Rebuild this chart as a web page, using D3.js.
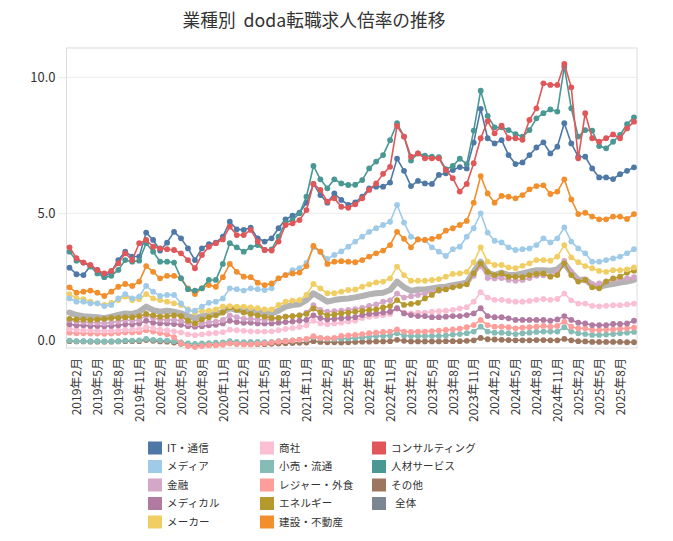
<!DOCTYPE html>
<html><head><meta charset="utf-8">
<script src="https://cdn.jsdelivr.net/npm/d3@7"></script>
<style>
body{margin:0;background:#fff;}
text{font-family:"Noto Sans CJK JP","Noto Sans",sans-serif;}
</style></head>
<body><svg id="chart" width="673" height="541"></svg>
<script>
// ---- categories ----
const months = [];
for (let y = 2019; y <= 2025; y++) for (let m = 1; m <= 12; m++) { if (y === 2025 && m > 10) break; months.push(y + "年" + m + "月"); }
const tickLabels = months.filter((d, i) => i % 3 === 1);
const yTicks = [0, 5, 10];

// ---- series values (2019年1月 .. 2025年10月) ----
const itTsushin = [3.00,2.76,2.73,3.06,2.92,2.67,2.85,3.28,3.59,3.41,3.41,4.29,4.02,3.63,3.92,4.32,4.08,3.71,3.28,3.71,3.87,3.92,4.14,4.69,4.41,4.39,4.47,4.08,3.96,4.08,4.45,4.78,4.91,5.02,5.39,6.08,5.67,5.39,5.73,5.49,5.31,5.40,
  5.61,5.92,5.98,5.98,6.13,7.01,6.56,6.00,6.19,6.10,6.08,6.41,6.47,6.59,6.70,6.65,7.60,8.84,7.76,7.57,7.69,7.14,6.81,6.87,7.14,7.42,7.61,7.20,7.45,8.31,7.57,7.08,7.08,6.65,6.32,6.32,6.26,6.44,6.56,6.69];
const media = [1.87,1.75,1.75,1.69,1.69,1.59,1.63,1.87,2.03,1.87,1.94,2.33,2.12,1.96,2.00,2.00,1.69,1.44,1.42,1.57,1.71,1.75,1.87,2.24,2.21,2.16,2.24,2.21,2.18,2.24,2.61,2.73,2.91,2.98,3.18,3.75,3.59,3.32,3.47,3.60,3.77,3.96,
  4.14,4.32,4.45,4.57,4.69,5.31,4.66,4.14,4.04,4.02,3.75,3.59,3.43,3.68,3.77,4.14,4.45,5.00,4.29,3.99,3.93,3.75,3.65,3.68,3.71,3.83,4.08,3.93,4.08,4.48,3.96,3.71,3.53,3.22,3.22,3.28,3.34,3.41,3.53,3.68];
const kinyu = [1.08,1.02,1.00,0.98,0.98,0.95,0.98,1.02,1.08,1.05,1.08,1.25,1.15,1.10,1.08,1.08,1.05,0.95,0.92,0.95,1.00,1.02,1.08,1.25,1.18,1.12,1.12,1.10,1.08,1.10,1.15,1.20,1.22,1.25,1.35,1.62,1.45,1.38,1.40,1.42,1.45,1.48,
  1.52,1.60,1.65,1.75,1.80,2.05,1.90,1.95,2.00,2.05,2.10,2.15,2.22,2.30,2.35,2.40,2.70,3.05,2.62,2.60,2.62,2.55,2.52,2.55,2.62,2.70,2.72,2.70,2.85,3.25,2.85,2.55,2.55,2.40,2.42,2.50,2.55,2.60,2.62,2.65];
const medical = [0.92,0.88,0.88,0.86,0.86,0.85,0.86,0.88,0.92,0.92,0.95,1.05,0.98,0.95,0.95,0.93,0.90,0.85,0.83,0.85,0.88,0.90,0.95,1.05,1.00,0.98,0.98,0.95,0.95,0.95,0.98,1.00,1.02,1.05,1.08,1.25,1.15,1.10,1.12,1.14,1.16,1.18,
  1.26,1.30,1.32,1.35,1.38,1.51,1.32,1.26,1.22,1.22,1.18,1.18,1.20,1.22,1.22,1.26,1.32,1.51,1.22,1.18,1.18,1.14,1.08,1.08,1.08,1.08,1.08,1.05,1.10,1.22,1.08,0.98,0.95,0.89,0.89,0.89,0.93,0.93,0.95,1.05];
const maker = [2.03,1.87,1.84,1.75,1.69,1.63,1.71,1.81,1.94,1.81,1.84,2.03,1.87,1.81,1.75,1.69,1.63,1.47,1.35,1.42,1.42,1.47,1.57,1.59,1.57,1.57,1.54,1.51,1.47,1.47,1.63,1.75,1.79,1.81,2.00,2.40,2.24,2.06,2.06,2.12,2.18,2.20,
  2.30,2.39,2.46,2.49,2.61,3.04,2.73,2.52,2.52,2.52,2.55,2.58,2.67,2.77,2.79,2.85,3.20,3.75,3.22,3.10,3.10,3.01,2.98,3.07,3.16,3.28,3.28,3.26,3.41,3.83,3.38,3.20,3.06,2.98,2.88,2.85,2.91,2.91,2.94,3.01];
const shosha = [0.75,0.72,0.70,0.70,0.68,0.68,0.68,0.70,0.72,0.72,0.74,0.82,0.78,0.72,0.70,0.66,0.62,0.55,0.52,0.55,0.58,0.60,0.63,0.72,0.70,0.68,0.66,0.65,0.65,0.66,0.70,0.75,0.78,0.82,0.88,1.05,0.95,0.92,0.95,0.98,1.02,1.05,
  1.15,1.20,1.22,1.25,1.30,1.50,1.35,1.32,1.35,1.35,1.38,1.40,1.42,1.45,1.50,1.55,1.75,2.10,1.90,1.82,1.82,1.78,1.75,1.75,1.78,1.82,1.85,1.82,1.85,2.05,1.80,1.68,1.68,1.60,1.58,1.60,1.62,1.62,1.65,1.68];
const kouri = [0.32,0.30,0.30,0.30,0.30,0.29,0.30,0.30,0.32,0.32,0.33,0.38,0.35,0.33,0.32,0.30,0.25,0.22,0.20,0.22,0.23,0.24,0.25,0.30,0.27,0.26,0.27,0.27,0.26,0.27,0.30,0.32,0.33,0.35,0.36,0.45,0.40,0.38,0.38,0.39,0.40,0.42,
  0.44,0.46,0.49,0.49,0.51,0.59,0.51,0.49,0.49,0.49,0.49,0.49,0.51,0.54,0.56,0.59,0.65,0.83,0.65,0.61,0.61,0.59,0.56,0.59,0.61,0.64,0.65,0.65,0.65,0.81,0.65,0.59,0.56,0.53,0.53,0.54,0.56,0.59,0.61,0.64];
const leisure = [0.61,0.59,0.59,0.58,0.58,0.57,0.58,0.60,0.62,0.62,0.63,0.70,0.65,0.60,0.55,0.45,0.22,0.12,0.08,0.12,0.15,0.15,0.18,0.22,0.20,0.18,0.18,0.20,0.22,0.25,0.28,0.30,0.32,0.35,0.38,0.48,0.42,0.40,0.42,0.49,0.51,0.53,
  0.56,0.59,0.61,0.64,0.65,0.73,0.65,0.64,0.65,0.65,0.67,0.69,0.71,0.73,0.76,0.81,0.89,1.08,0.89,0.83,0.83,0.81,0.77,0.80,0.81,0.83,0.86,0.83,0.86,1.02,0.83,0.77,0.77,0.71,0.71,0.73,0.73,0.76,0.77,0.80];
const energy = [1.12,1.10,1.10,1.08,1.10,1.12,1.15,1.15,1.18,1.18,1.22,1.30,1.25,1.20,1.22,1.25,1.22,1.05,0.95,1.10,1.18,1.25,1.35,1.55,1.45,1.35,1.30,1.25,1.20,1.15,1.15,1.20,1.22,1.25,1.30,1.50,1.35,1.25,1.28,1.32,1.35,1.38,
  1.41,1.45,1.47,1.54,1.59,1.81,1.63,1.67,1.71,1.87,2.00,2.18,2.20,2.28,2.33,2.39,2.79,3.15,2.85,2.73,2.79,2.67,2.67,2.65,2.73,2.77,2.79,2.67,2.73,3.16,2.73,2.49,2.55,2.28,2.24,2.49,2.61,2.67,2.82,2.89];
const kensetsu = [2.28,2.08,2.12,2.16,2.08,1.96,2.12,2.30,2.40,2.33,2.49,3.06,2.85,2.61,2.70,2.70,2.61,2.24,2.03,2.24,2.36,2.30,2.65,3.14,2.85,2.67,2.65,2.45,2.36,2.42,2.61,2.73,2.79,2.82,3.06,3.80,3.59,3.14,3.22,3.24,3.22,3.20,
  3.28,3.41,3.53,3.63,3.83,4.32,4.06,3.75,4.04,4.02,4.06,4.14,4.36,4.45,4.57,4.72,5.39,6.37,5.73,5.39,5.64,5.61,5.55,5.67,5.88,6.00,6.03,5.71,5.80,6.25,5.51,4.97,5.02,4.88,4.78,4.78,4.88,4.88,4.79,4.97];
const consulting = [3.75,3.35,3.19,3.10,2.91,2.79,2.88,3.16,3.53,3.28,3.90,4.02,3.77,3.71,3.68,3.65,3.53,3.28,2.98,3.47,3.77,3.90,4.04,4.51,4.20,4.20,4.39,3.96,3.65,3.63,3.96,4.57,4.63,4.75,5.12,6.08,5.86,5.43,5.55,5.24,5.20,5.33,
  5.55,5.86,6.10,6.45,6.71,8.21,7.82,7.08,7.20,7.02,7.02,7.02,6.59,6.29,5.80,6.08,6.84,7.76,8.39,7.94,8.22,7.76,7.76,7.70,8.43,8.86,9.78,9.72,9.72,10.49,9.63,7.02,8.68,7.76,7.63,7.76,7.90,7.76,8.12,8.37];
const jinzai = [3.59,3.26,3.19,3.04,2.79,2.65,2.70,2.92,3.28,3.22,3.26,3.90,3.59,3.22,3.22,3.19,2.61,2.21,2.16,2.24,2.55,2.55,3.14,3.90,3.75,3.59,3.75,3.83,3.65,3.67,4.14,4.66,4.75,5.00,5.61,6.74,6.25,5.92,6.25,6.10,6.04,6.05,
  6.22,6.65,6.90,7.14,7.69,8.31,7.82,6.94,7.20,7.12,7.08,7.06,6.62,6.74,7.01,6.81,8.04,9.51,8.58,8.16,8.16,8.06,7.91,7.82,8.06,8.49,8.68,8.82,8.74,10.39,8.86,7.82,8.06,8.04,7.47,7.39,7.63,7.88,8.28,8.53];
const sonota = [0.30,0.29,0.29,0.28,0.28,0.28,0.28,0.29,0.30,0.30,0.30,0.34,0.31,0.29,0.28,0.25,0.20,0.15,0.14,0.15,0.16,0.17,0.18,0.22,0.20,0.19,0.19,0.19,0.19,0.20,0.21,0.22,0.23,0.24,0.25,0.30,0.27,0.26,0.26,0.25,0.26,0.27,
  0.28,0.28,0.29,0.29,0.30,0.35,0.31,0.29,0.29,0.29,0.29,0.29,0.30,0.30,0.30,0.31,0.33,0.42,0.37,0.36,0.35,0.34,0.33,0.33,0.33,0.34,0.34,0.33,0.33,0.38,0.33,0.30,0.29,0.27,0.27,0.27,0.27,0.27,0.26,0.26];
const zentai = [1.35,1.26,1.22,1.20,1.18,1.14,1.20,1.26,1.32,1.30,1.38,1.57,1.44,1.38,1.42,1.38,1.32,1.22,1.14,1.22,1.26,1.30,1.38,1.51,1.44,1.42,1.38,1.38,1.32,1.32,1.42,1.57,1.63,1.66,1.81,2.06,1.91,1.75,1.81,1.85,1.87,1.91,
  1.96,2.02,2.06,2.08,2.18,2.49,2.28,2.15,2.20,2.20,2.24,2.28,2.30,2.36,2.40,2.45,2.85,3.22,2.82,2.73,2.82,2.73,2.73,2.79,2.85,2.91,2.91,2.89,2.94,3.16,2.82,2.55,2.57,2.36,2.30,2.36,2.40,2.45,2.49,2.55];

const seriesNames = ["IT・通信","メディア","金融","メディカル","メーカー","商社","小売・流通","レジャー・外食","エネルギー","建設・不動産","コンサルティング","人材サービス","その他","全体"];
const seriesData = [itTsushin, media, kinyu, medical, maker, shosha, kouri, leisure, energy, kensetsu, consulting, jinzai, sonota, zentai];
const seriesColors = ["#4e79a7","#a0cbe8","#d4a6c8","#b07aa1","#f1ce63","#fabfd2","#86bcb6","#ff9d9a","#b6992d","#f28e2b","#e15759","#499894","#9d7660","#7c8692"];
const drawOrder = [13,12,6,7,5,3,2,8,4,1,9,0,11,10];

const svg = d3.select("#chart");
const frame = {l: 66.5, r: 637, t: 48, b: 348};
const x = d3.scalePoint().domain(months).range([69.5, 634]);
const y = d3.scaleLinear().domain([0, 10]).range([349.3, 77.3]);

// title
svg.append("text").attr("x", 314).attr("y", 27).attr("text-anchor", "middle")
  .attr("font-size", 17.7).attr("fill", "#333").text("業種別  doda転職求人倍率の推移").style("white-space","pre");

// gridlines
svg.append("g").selectAll("line").data(yTicks.filter(d => d > 0)).join("line")
  .attr("x1", frame.l).attr("x2", frame.r).attr("y1", d => y(d)).attr("y2", d => y(d))
  .attr("stroke", "#ececec").attr("stroke-width", 1);

// frame
svg.append("rect").attr("x", frame.l).attr("y", frame.t).attr("width", frame.r - frame.l).attr("height", frame.b - frame.t)
  .attr("fill", "none").attr("stroke", "#dcdcdc").attr("stroke-width", 1);

// y axis
const yAxis = svg.append("g").attr("transform", `translate(${frame.l},0)`)
  .call(d3.axisLeft(y).tickValues(yTicks).tickFormat(d3.format(".1f")).tickSize(8).tickPadding(3));
yAxis.select(".domain").remove();
yAxis.selectAll(".tick line").attr("stroke", "#e6e6e6");
yAxis.selectAll(".tick text").attr("font-size", 13).attr("fill", "#333")
  .style("font-family", "'Noto Sans CJK JP',sans-serif")
  .attr("dy", d => d === 0 ? "-0.35em" : "0.32em");
yAxis.selectAll(".tick").filter(d => d === 0).select("line").remove();

// x axis
const xAxis = svg.append("g").attr("transform", `translate(0,${frame.b})`)
  .call(d3.axisBottom(x).tickValues(tickLabels).tickSize(0).tickPadding(10));
xAxis.select(".domain").remove();
xAxis.selectAll(".tick text").attr("font-size", 12).attr("fill", "#333")
  .style("font-family", "'Noto Sans CJK JP',sans-serif")
  .attr("transform", "rotate(-90)").attr("text-anchor", "end")
  .attr("x", -10).attr("y", 0).attr("dy", "0.35em");

// lines
const plot = svg.append("g");
const line = d3.line().x((d, i) => x(months[i])).y(d => y(d));
drawOrder.forEach(si => {
  const vals = seriesData[si];
  const g = plot.append("g");
  if (si === 13) {
    g.append("path").attr("d", line(vals)).attr("fill", "none")
      .attr("stroke", "#b3b3b3").attr("stroke-width", 6).attr("stroke-linejoin", "round").attr("stroke-linecap", "round");
  } else {
    g.append("path").attr("d", line(vals)).attr("fill", "none")
      .attr("stroke", seriesColors[si]).attr("stroke-width", 1.6).attr("stroke-linejoin", "round");
    g.selectAll("circle").data(vals).join("circle")
      .attr("cx", (d, i) => x(months[i])).attr("cy", d => y(d)).attr("r", 2.9)
      .attr("fill", seriesColors[si]);
  }
});

// legend
const legendCols = [[0,1,2,3,4],[5,6,7,8,9],[10,11,12,13]];
const colX = [148, 260, 372];
const legend = svg.append("g");
legendCols.forEach((col, ci) => {
  col.forEach((si, ri) => {
    const cy = 448 + ri * 18.5;
    legend.append("rect").attr("x", colX[ci]).attr("y", cy - 6.5).attr("width", 14).attr("height", 13)
      .attr("fill", seriesColors[si]);
    legend.append("text").attr("x", colX[ci] + (si === 13 ? 23 : 19)).attr("y", cy).attr("dy", "0.35em")
      .attr("font-size", 10.5).attr("fill", "#333").attr("letter-spacing", "0.2px").text(seriesNames[si]);
  });
});
</script></body></html>
